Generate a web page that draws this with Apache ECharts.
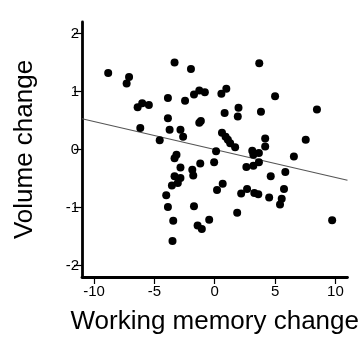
<!DOCTYPE html>
<html>
<head>
<meta charset="utf-8">
<script src="https://cdn.jsdelivr.net/npm/echarts@6/dist/echarts.min.js"></script>
<style>
  html, body { margin: 0; padding: 0; background: #fff; }
  #chart { width: 362px; height: 340px; }
</style>
</head>
<body>
<div id="chart"></div>
<script>
// working memory change (x) for each subject
const wmChange = [
  -8.83, -7.10, -7.30, -6.39, -6.01, -5.46, -6.17, -4.56, -3.33, -3.88,
  -3.88, -3.74, -2.84, -2.62, -2.46, -1.97, -1.72, -1.28, -0.82, -1.28,
  -1.15, -3.17, -3.33, -2.84, -3.33, -2.84, -3.06, -3.55, -4.02, -3.88,
  -3.44, -3.50, -1.86, -1.78, -1.20, -1.72, -1.42, -1.07, -0.46, -0.05,
  0.11, 0.19, 0.66, 0.55, 0.96, 0.82, 0.60, 0.90, 1.09, 1.28,
  1.69, 1.97, 1.91, 1.86, 2.19, 2.62, 2.68, 3.11, 3.20, 3.20,
  3.28, 3.61, 3.69, 3.83, 3.66, 3.66, 4.18, 4.18, 4.51, 4.64,
  5.00, 5.41, 5.55, 5.74, 5.85, 6.56, 7.54, 8.47, 9.73
]
// volume change (y) for each subject
const volChange = [
  1.32, 1.25, 1.14, 0.73, 0.80, 0.77, 0.37, 0.16, 1.50, 0.89,
  0.54, 0.34, 0.34, 0.22, 0.84, 1.39, 0.95, 1.02, 0.99, 0.46,
  0.49, -0.09, -0.15, -0.31, -0.46, -0.49, -0.58, -0.62, -0.79, -0.99,
  -1.23, -1.58, -0.35, -0.45, -0.24, -0.98, -1.31, -1.37, -1.21, -0.22,
  -0.03, -0.70, -0.59, 0.96, 1.05, 0.63, 0.29, 0.22, 0.17, 0.11,
  0.04, 0.72, 0.57, -1.09, -0.76, -0.30, -0.68, -0.02, -0.09, -0.28,
  -0.75, -0.77, 1.49, 0.65, -0.06, -0.22, 0.19, 0.05, -0.83, -0.46,
  0.92, -0.95, -0.85, -0.68, -0.39, -0.12, 0.17, 0.69, -1.22
]
// fitted line ends
const fitX = [-11, 11]
const fitY = [0.53, -0.53]

const xTicks = [-10, -5, 0, 5, 10]
const yTicks = [-2, -1, 0, 1, 2]

const points = wmChange.map((x, i) => [x, volChange[i]])
const fitLine = fitX.map((x, i) => [x, fitY[i]])

const chart = echarts.init(document.getElementById('chart'))
const font = 'Liberation Sans, Arial, sans-serif'

chart.setOption({
  animation: false,
  grid: { left: 82, right: 10, top: 22, bottom: 63 },
  xAxis: {
    type: 'value',
    min: -11,
    max: 11,
    name: 'Working memory change',
    nameLocation: 'middle',
    nameGap: 32,
    nameTextStyle: { color: '#000', fontSize: 26, fontFamily: font },
    splitLine: { show: false },
    axisLine: { onZero: false, lineStyle: { color: '#000', width: 2.8 } },
    axisTick: { customValues: xTicks, length: 7, lineStyle: { color: '#000', width: 1.2 } },
    axisLabel: { customValues: xTicks, color: '#000', fontSize: 15, fontFamily: font, margin: 7 }
  },
  yAxis: {
    type: 'value',
    min: -2.2,
    max: 2.2,
    name: 'Volume change',
    nameLocation: 'middle',
    nameGap: 44,
    nameTextStyle: { color: '#000', fontSize: 26, fontFamily: font },
    splitLine: { show: false },
    axisLine: { show: true, onZero: false, lineStyle: { color: '#000', width: 2.8 } },
    axisTick: { show: true, customValues: yTicks, length: 8, lineStyle: { color: '#000', width: 1.2 } },
    axisLabel: { customValues: yTicks, color: '#000', fontSize: 15, fontFamily: font, margin: 3 }
  },
  series: [
    {
      type: 'line',
      data: fitLine,
      symbol: 'none',
      z: 1,
      lineStyle: { color: '#555', width: 1.2 }
    },
    {
      type: 'scatter',
      data: points,
      symbolSize: 8,
      z: 2,
      itemStyle: { color: '#000', opacity: 1 }
    }
  ]
})
</script>
</body>
</html>
